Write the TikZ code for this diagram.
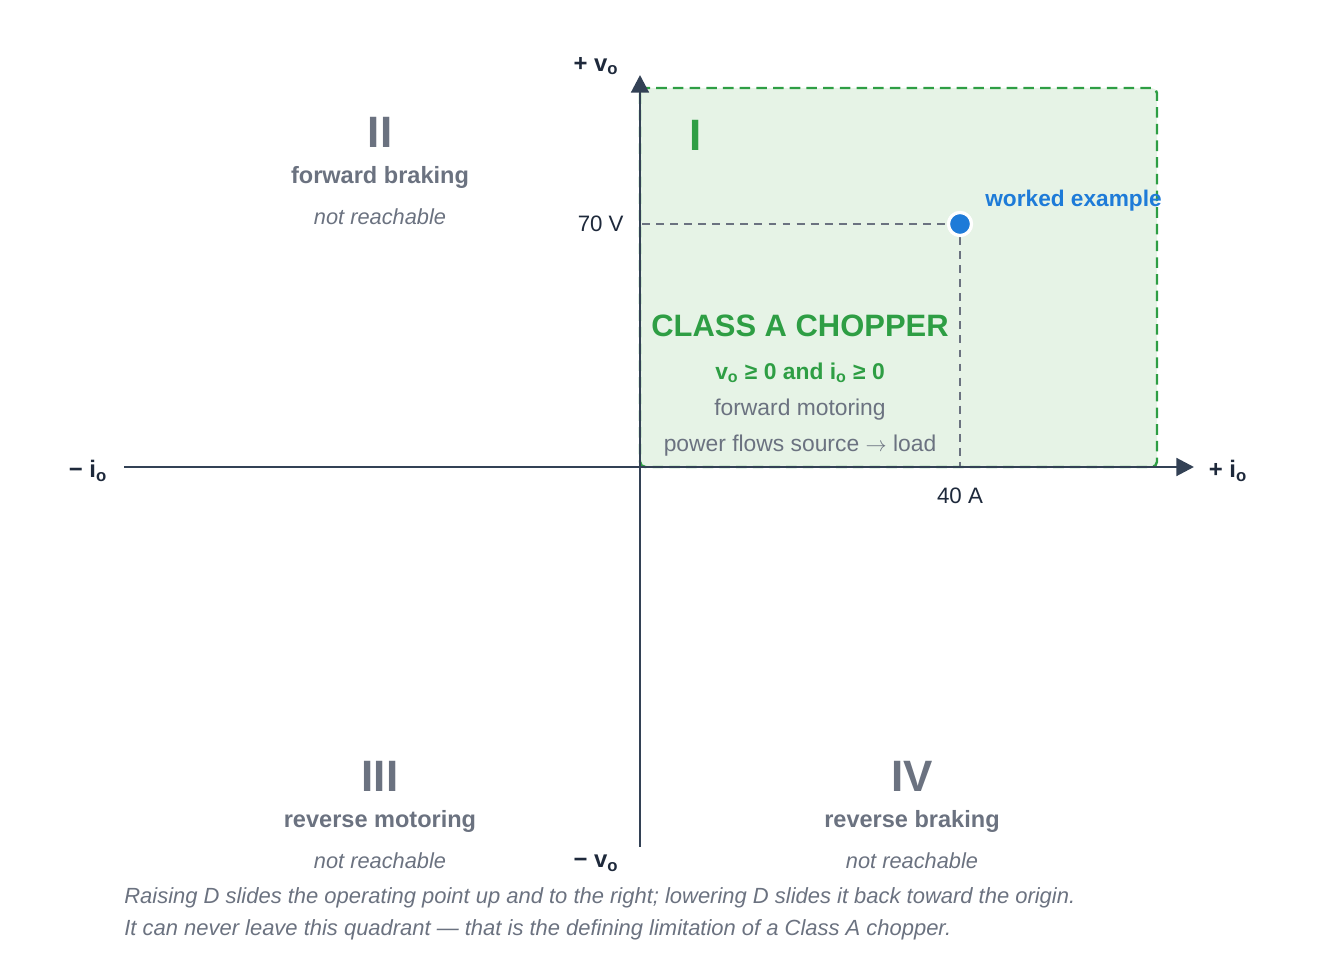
\documentclass[tikz,border=0pt]{standalone}
\usepackage{fontspec}
\setmainfont{Liberation Sans}
\usepackage{tikz}
\usetikzlibrary{arrows.meta}
\usetikzlibrary{positioning}
\definecolor{axisdark}{HTML}{334155}
\definecolor{labeldark}{HTML}{1E293B}
\definecolor{quadgray}{HTML}{6B7280}
\definecolor{classgreen}{HTML}{2E9E44}
\definecolor{regionfill}{HTML}{E6F3E6}
\definecolor{pointblue}{HTML}{1E7BD8}
\tikzstyle{every node}+=[inner sep=0pt]
\tikzstyle{axis} = [draw=axisdark, line width=1.7pt, -{Triangle[length=10pt,width=10pt]}]
\tikzstyle{axislabel} = [text=labeldark, font=\fontsize{13.6}{16}\selectfont\bfseries]
\tikzstyle{tick} = [text=labeldark, font=\fontsize{12.7}{15}\selectfont]
\tikzstyle{guide} = [draw=quadgray, line width=1.1pt, dash pattern=on 4.5pt off 3.5pt]
\tikzstyle{region} = [fill=regionfill, draw=classgreen, line width=1.4pt, dash pattern=on 6pt off 3.5pt, rounded corners=3pt]
\tikzstyle{dot} = [circle, fill=pointblue, draw=white, line width=1.8pt, minimum size=0.46cm]
\tikzstyle{numeral} = [text=quadgray, font=\fontsize{25}{30}\selectfont\bfseries]
\tikzstyle{quadname} = [text=quadgray, font=\fontsize{13.4}{16}\selectfont\bfseries, node distance=0.9cm]
\tikzstyle{note} = [text=quadgray, font=\fontsize{12.4}{15}\selectfont\itshape, node distance=0.8cm]
\tikzstyle{classtitle} = [text=classgreen, font=\fontsize{17.6}{21}\selectfont\bfseries]
\tikzstyle{classrule} = [text=classgreen, font=\fontsize{13}{16}\selectfont\bfseries, node distance=0.94cm]
\tikzstyle{classtext} = [text=quadgray, font=\fontsize{13}{16}\selectfont, node distance=0.72cm]
\tikzstyle{caption} = [text=quadgray, font=\fontsize{12.5}{15}\selectfont\itshape, anchor=west]

\begin{document}
\begin{tikzpicture}[x=0.02cm, y=-0.02cm]
            \useasboundingbox (0,0) rectangle (1320,972);
            % Quadrant I region
            \draw [region] (640,88) rectangle (1157,467);
            % Axis ends
            \coordinate (west) at (124,467);
            \coordinate (east) at (1194,467);
            \coordinate (south) at (640,847);
            \coordinate (north) at (640,75);
            \coordinate (vtick) at (642,224);
            \coordinate (itick) at (960,467);
            % Place nodes
            \node [dot] (op) at (960,224) {};
            \node [axislabel] (vplus) at (596,66) {+ v\textsubscript{o}};
            \node [axislabel] (vminus) at (596,863) {− v\textsubscript{o}};
            \node [axislabel] (iminus) at (88,471) {− i\textsubscript{o}};
            \node [axislabel] (iplus) at (1228,471) {+ i\textsubscript{o}};
            \node [tick, anchor=east] (vval) at (624,224) {70 V};
            \node [tick] (ival) at (960,496) {40 A};
            \node [numeral, text=classgreen] (q1) at (696,135) {I};
            \node [axislabel, text=pointblue, font=\fontsize{12.9}{15}\selectfont\bfseries, anchor=west] (worked) at (985,201) {worked example};
            \node [classtitle] (cls) at (800,326) {CLASS A CHOPPER};
            \node [classrule, below of=cls] (rule) {v\textsubscript{o} ≥ 0 and i\textsubscript{o} ≥ 0};
            \node [classtext, below of=rule, node distance=0.74cm] (fm) {forward motoring};
            \node [classtext, below of=fm] (flow) {power flows source $\rightarrow$ load};
            \node [numeral] (q2) at (380,132) {II};
            \node [quadname, below of=q2] (q2name) {forward braking};
            \node [note, below of=q2name] (q2note) {not reachable};
            \node [numeral] (q3) at (380,776) {III};
            \node [quadname, below of=q3] (q3name) {reverse motoring};
            \node [note, below of=q3name] (q3note) {not reachable};
            \node [numeral] (q4) at (912,776) {IV};
            \node [quadname, below of=q4] (q4name) {reverse braking};
            \node [note, below of=q4name] (q4note) {not reachable};
            \node [caption] (cap1) at (124,898) {Raising D slides the operating point up and to the right; lowering D slides it back toward the origin.};
            \node [caption] (cap2) at (124,930) {It can never leave this quadrant — that is the defining limitation of a Class A chopper.};
            % Draw edges
            \path [guide] (vtick) -- (op);
            \path [guide] (op) -- (itick);
            \path [axis] (west) -- (east);
            \path [axis] (south) -- (north);
            \node [dot] at (op) {};
          \end{tikzpicture}
\end{document}
